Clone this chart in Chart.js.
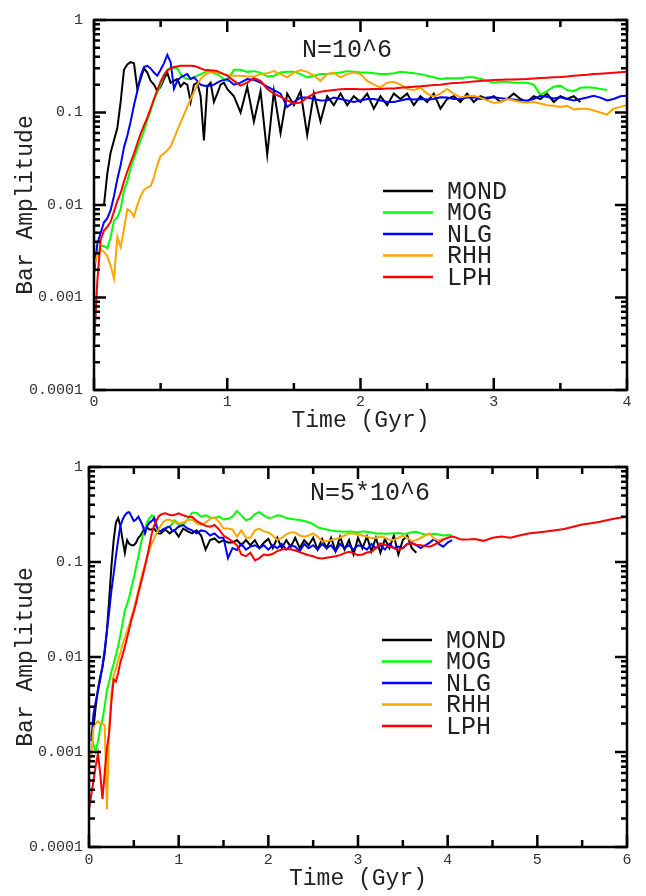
<!DOCTYPE html>
<html>
<head>
<meta charset="utf-8">
<script src="https://cdn.jsdelivr.net/npm/chart.js@4.4.0/dist/chart.umd.min.js"></script>
<style>
  html, body { margin: 0; padding: 0; background: #fff; }
  .panel { position: absolute; left: 0; width: 646px; height: 448px; }
  #top { top: 0; }
  #bottom { top: 448px; }
</style>
</head>
<body>
<div class="panel" id="top"><canvas id="chartTop" width="646" height="448"></canvas></div>
<div class="panel" id="bottom"><canvas id="chartBottom" width="646" height="448"></canvas></div>
<script>
// series names and colours, shared by both panels
const models = ['MOND', 'MOG', 'NLG', 'RHH', 'LPH'];
const modelColors = ['#000000', '#00ff00', '#0000ff', '#ffa500', '#ff0000'];
const yTickValues = [0.0001, 0.001, 0.01, 0.1, 1];

// ---- N = 10^6 (time in Gyr) ----
const timeTop = [
  0, 0.025, 0.05, 0.075, 0.1, 0.125, 0.15, 0.175,
  0.2, 0.225, 0.25, 0.275, 0.3, 0.325, 0.35, 0.375,
  0.4, 0.425, 0.45, 0.475, 0.5, 0.525, 0.55, 0.575,
  0.6, 0.625, 0.65, 0.675, 0.7, 0.725, 0.75, 0.775,
  0.8, 0.825, 0.85, 0.875, 0.9, 0.925, 0.95, 0.975,
  1.0,
  1.05, 1.1, 1.15, 1.2, 1.25, 1.3, 1.35, 1.4, 1.45, 1.5,
  1.55, 1.6, 1.65, 1.7, 1.75, 1.8, 1.85, 1.9, 1.95, 2.0,
  2.05, 2.1, 2.15, 2.2, 2.25, 2.3, 2.35, 2.4, 2.45, 2.5,
  2.55, 2.6, 2.65, 2.7, 2.75, 2.8, 2.85, 2.9, 2.95, 3.0,
  3.05, 3.1, 3.15, 3.2, 3.25, 3.3, 3.35, 3.4, 3.45, 3.5,
  3.55, 3.6, 3.65, 3.7, 3.75, 3.8, 3.85, 3.9, 3.95, 4.0
];
const mondTop = [
  null, null, null, 0.010, 0.022, 0.037, 0.05, 0.068,
  0.13, 0.29, 0.33, 0.35, 0.34, 0.18, 0.23, 0.30,
  0.27, 0.22, 0.20, 0.17, 0.19, 0.23, 0.27, 0.21,
  0.22, 0.23, 0.19, 0.21, 0.2, 0.13, 0.2, 0.21,
  0.15, 0.05, 0.19, 0.21, 0.13, 0.16, 0.2, 0.21,
  0.18,
  0.15, 0.10, 0.19, 0.08, 0.17, 0.035, 0.17, 0.06, 0.16, 0.12,
  0.17, 0.057, 0.16, 0.08, 0.15, 0.12, 0.16, 0.12, 0.15, 0.13,
  0.16, 0.11, 0.15, 0.12, 0.16, 0.14, 0.16, 0.12, 0.15, 0.13,
  0.16, 0.11, 0.14, 0.15, 0.13, 0.16, 0.13, 0.15, 0.14, 0.15,
  0.13, 0.14, 0.16, 0.14, 0.13, 0.15, 0.14, 0.16, 0.13, 0.15,
  0.14, 0.15, 0.13
];
const mogTop = [
  null, 0.0028, 0.0036, 0.0036, 0.0034, 0.0045, 0.0068, 0.0074,
  0.009, 0.0145, 0.018, 0.025, 0.032, 0.04, 0.05, 0.064,
  0.082, 0.105, 0.135, 0.165, 0.2, 0.25, 0.29, 0.305,
  0.305, 0.30, 0.26, 0.24, 0.23, 0.23, 0.24, 0.25,
  0.26, 0.27, 0.28, 0.275, 0.265, 0.26, 0.245, 0.23,
  0.22,
  0.29, 0.29, 0.275, 0.28, 0.27, 0.245, 0.25, 0.27, 0.275, 0.275,
  0.26, 0.24, 0.25, 0.26, 0.26, 0.265, 0.27, 0.28, 0.275, 0.27,
  0.27, 0.265, 0.26, 0.26, 0.265, 0.275, 0.27, 0.265, 0.26, 0.25,
  0.24, 0.23, 0.235, 0.235, 0.235, 0.24, 0.24, 0.23, 0.22, 0.21,
  0.215, 0.215, 0.21, 0.21, 0.21, 0.2, 0.155, 0.17, 0.19, 0.195,
  0.175, 0.17, 0.185, 0.187, 0.185, 0.18, 0.175
];
const nlgTop = [
  0.0018, 0.0038, 0.005, 0.0065, 0.0072, 0.0088, 0.0125, 0.019,
  0.027, 0.042, 0.056, 0.08, 0.12, 0.17, 0.25, 0.31,
  0.32, 0.30, 0.27, 0.25, 0.29, 0.34, 0.42, 0.35,
  0.18, 0.22, 0.24, 0.25, 0.26, 0.23, 0.24, 0.22,
  0.2, 0.195, 0.195, 0.195, 0.2, 0.21, 0.22, 0.225,
  0.23,
  0.2, 0.21, 0.23, 0.225, 0.21, 0.19, 0.175, 0.16, 0.115, 0.13,
  0.145, 0.145, 0.14, 0.135, 0.135, 0.145, 0.14, 0.135, 0.13, 0.135,
  0.14, 0.14, 0.135, 0.13, 0.13, 0.135, 0.14, 0.138, 0.14, 0.138,
  0.14, 0.146, 0.145, 0.14, 0.14, 0.145, 0.146, 0.14, 0.145, 0.146,
  0.143, 0.14, 0.138, 0.135, 0.135, 0.14, 0.152, 0.148, 0.142, 0.146,
  0.14, 0.135, 0.14, 0.145, 0.152, 0.145, 0.135, 0.14, 0.15, 0.152
];
const rhhTop = [
  0.0022, 0.0029, 0.0033, 0.0031, 0.0028, 0.0022, 0.0016, 0.0045,
  0.0035, 0.0055, 0.009, 0.0085, 0.0075, 0.01, 0.0125, 0.0145,
  0.0155, 0.016, 0.02, 0.027, 0.034, 0.036, 0.039, 0.043,
  0.052, 0.064, 0.078, 0.095, 0.115, 0.14, 0.165, 0.2,
  0.23, 0.25, 0.265, 0.275, 0.272, 0.268, 0.265, 0.26,
  0.255,
  0.25, 0.25, 0.245, 0.245, 0.26, 0.265, 0.28, 0.26, 0.24, 0.27,
  0.288, 0.275, 0.25, 0.22, 0.26, 0.27, 0.24, 0.26, 0.27, 0.26,
  0.22, 0.2, 0.187, 0.21, 0.215, 0.2, 0.18, 0.175, 0.185, 0.16,
  0.148, 0.16, 0.18, 0.16, 0.146, 0.15, 0.152, 0.145, 0.135, 0.127,
  0.13, 0.14, 0.135, 0.13, 0.128, 0.13, 0.125, 0.12, 0.118, 0.115,
  0.118, 0.108, 0.11, 0.11, 0.105, 0.1, 0.095, 0.11, 0.115, 0.12
];
const lphTop = [
  0.0003, 0.0015, 0.0042, 0.0053, 0.0058, 0.0066, 0.0085, 0.011,
  0.0135, 0.018, 0.023, 0.029, 0.036, 0.046, 0.059, 0.072,
  0.088, 0.11, 0.14, 0.175, 0.215, 0.255, 0.285, 0.3,
  0.31, 0.315, 0.32, 0.32, 0.32, 0.32, 0.318, 0.31,
  0.3, 0.29, 0.288, 0.286, 0.285, 0.28, 0.27, 0.26,
  0.25,
  0.22, 0.195, 0.21, 0.235, 0.22, 0.18, 0.16, 0.148, 0.135, 0.125,
  0.128, 0.145, 0.16, 0.168, 0.172, 0.175, 0.178, 0.18, 0.18, 0.178,
  0.178, 0.18, 0.18, 0.182, 0.182, 0.185, 0.188, 0.19, 0.192, 0.195,
  0.198, 0.2, 0.205, 0.208, 0.21, 0.213, 0.216, 0.219, 0.222, 0.224,
  0.226, 0.227, 0.228, 0.229, 0.23, 0.233, 0.236, 0.238, 0.24, 0.242,
  0.245, 0.249, 0.253, 0.256, 0.26, 0.263, 0.266, 0.269, 0.272, 0.275
];

// ---- N = 5*10^6 ----
const timeBottom = [
  0, 0.025, 0.05, 0.075, 0.1, 0.125, 0.15, 0.175,
  0.2, 0.225, 0.25, 0.275, 0.3, 0.325, 0.35, 0.375,
  0.4, 0.425, 0.45, 0.475, 0.5, 0.525, 0.55, 0.575,
  0.6, 0.625, 0.65, 0.675, 0.7, 0.725, 0.75, 0.775,
  0.8, 0.825, 0.85, 0.875, 0.9, 0.925, 0.95, 0.975,
  1.0,
  1.05, 1.1, 1.15, 1.2, 1.25, 1.3, 1.35, 1.4, 1.45, 1.5,
  1.55, 1.6, 1.65, 1.7, 1.75, 1.8, 1.85, 1.9, 1.95, 2.0,
  2.05, 2.1, 2.15, 2.2, 2.25, 2.3, 2.35, 2.4, 2.45, 2.5,
  2.55, 2.6, 2.65, 2.7, 2.75, 2.8, 2.85, 2.9, 2.95, 3.0,
  3.05, 3.1, 3.15, 3.2, 3.25, 3.3, 3.35, 3.4, 3.45, 3.5,
  3.55, 3.6, 3.65, 3.7, 3.75, 3.8, 3.85, 3.9, 3.95, 4.0,
  4.05, 4.1, 4.15, 4.2,
  4.3, 4.4, 4.5, 4.6, 4.7, 4.8, 4.9, 5.0,
  5.1, 5.2, 5.3, 5.4, 5.5, 5.6, 5.7, 5.8, 5.9, 6.0
];
const mondBottom = [
  null, null, 0.0018, 0.003, 0.0046, 0.0062, 0.0078, 0.011,
  0.019, 0.04, 0.09, 0.17, 0.26, 0.29, 0.24, 0.17,
  0.125, 0.17, 0.155, 0.15, 0.15, 0.16, 0.18, 0.19,
  0.21, 0.23, 0.23, 0.22, 0.22, 0.225, 0.21, 0.2,
  0.2, 0.21, 0.22, 0.21, 0.2, 0.21, 0.217, 0.2,
  0.185,
  0.225, 0.21, 0.2, 0.215, 0.19, 0.135, 0.17, 0.177, 0.16, 0.17,
  0.16, 0.16, 0.17, 0.15, 0.17, 0.15, 0.17, 0.14, 0.16, 0.175,
  0.14, 0.18, 0.14, 0.17, 0.145, 0.18, 0.14, 0.17, 0.15, 0.18,
  0.135, 0.175, 0.14, 0.18, 0.13, 0.185, 0.135, 0.17, 0.12, 0.18,
  0.14, 0.185, 0.13, 0.18, 0.125, 0.175, 0.14, 0.19, 0.12, 0.17,
  0.19, 0.14, 0.125
];
const mogBottom = [
  null, 0.0016, 0.0012, 0.001, 0.0013, 0.0018, 0.0022, 0.003,
  0.0045, 0.0055, 0.007, 0.0085, 0.0105, 0.013, 0.017, 0.023,
  0.031, 0.036, 0.043, 0.055, 0.068, 0.088, 0.113, 0.15,
  0.19, 0.225, 0.265, 0.29, 0.31, 0.3, 0.26, 0.21,
  0.21, 0.22, 0.228, 0.232, 0.235, 0.25, 0.275, 0.265,
  0.245,
  0.245, 0.28, 0.33, 0.33, 0.3, 0.31, 0.295, 0.29, 0.3, 0.28,
  0.285, 0.3, 0.345, 0.31, 0.275, 0.285, 0.32, 0.335, 0.31, 0.29,
  0.295, 0.31, 0.305, 0.29, 0.285, 0.28, 0.277, 0.27, 0.262, 0.25,
  0.232, 0.225, 0.22, 0.215, 0.212, 0.21, 0.208, 0.21, 0.208, 0.205,
  0.21, 0.208, 0.205, 0.2, 0.2, 0.198, 0.2, 0.2, 0.202, 0.198,
  0.2, 0.206, 0.208, 0.2, 0.195, 0.196, 0.198, 0.195, 0.19, 0.192,
  0.19
];
const nlgBottom = [
  null, 0.0013, 0.0025, 0.0034, 0.0044, 0.0058, 0.008, 0.012,
  0.019, 0.03, 0.05, 0.075, 0.115, 0.17, 0.24, 0.28,
  0.31, 0.33, 0.335, 0.3, 0.27, 0.28, 0.3, 0.27,
  0.24, 0.2, 0.24, 0.26, 0.27, 0.29, 0.24, 0.215,
  0.21, 0.22, 0.225, 0.232, 0.235, 0.215, 0.21, 0.225,
  0.235,
  0.245, 0.225, 0.215, 0.2, 0.215, 0.21, 0.19, 0.2, 0.18, 0.18,
  0.11, 0.14, 0.134, 0.155, 0.135, 0.145, 0.15, 0.14, 0.15, 0.135,
  0.15, 0.14, 0.155, 0.135, 0.15, 0.145, 0.13, 0.155, 0.14, 0.15,
  0.135, 0.155, 0.14, 0.15, 0.13, 0.155, 0.14, 0.15, 0.135, 0.15,
  0.145, 0.135, 0.155, 0.14, 0.15, 0.135, 0.155, 0.14, 0.145, 0.14,
  0.155, 0.16, 0.15, 0.14, 0.15, 0.16, 0.175, 0.155, 0.145, 0.16,
  0.17
];
const rhhBottom = [
  0.0007, 0.0009, 0.0018, 0.002, 0.0021, 0.002, 0.002, 0.0019,
  0.00025, 0.0018, 0.0042, 0.0063, 0.0075, 0.0092, 0.011, 0.0135,
  0.016, 0.019, 0.022, 0.027, 0.032, 0.04, 0.05, 0.063,
  0.078, 0.095, 0.115, 0.135, 0.155, 0.175, 0.197, 0.218,
  0.24, 0.262, 0.272, 0.28, 0.278, 0.27, 0.263, 0.258,
  0.255,
  0.26, 0.275, 0.28, 0.255, 0.245, 0.26, 0.285, 0.295, 0.265, 0.225,
  0.225, 0.22, 0.185, 0.215, 0.18, 0.18, 0.215, 0.225, 0.21, 0.205,
  0.19, 0.17, 0.18, 0.195, 0.205, 0.205, 0.19, 0.185, 0.19, 0.2,
  0.185, 0.165, 0.165, 0.17, 0.175, 0.18, 0.19, 0.2, 0.2, 0.195,
  0.19, 0.185, 0.178, 0.18, 0.185, 0.18, 0.172, 0.17, 0.18, 0.19,
  0.18, 0.165, 0.17, 0.18, 0.19, 0.2, 0.175, 0.17, 0.175
];
const lphBottom = [
  0.00025, 0.00035, 0.0005, 0.00072, 0.00095, 0.0006, 0.00032, 0.0006,
  0.0011, 0.0016, 0.0034, 0.0058, 0.0055, 0.0068, 0.0088, 0.0105,
  0.0128, 0.016, 0.02, 0.025, 0.03, 0.037, 0.047, 0.058,
  0.072, 0.09, 0.115, 0.15, 0.2, 0.24, 0.27, 0.3,
  0.315, 0.322, 0.325, 0.32, 0.312, 0.31, 0.312, 0.318,
  0.325,
  0.31, 0.3, 0.298, 0.27, 0.255, 0.24, 0.235, 0.245, 0.22, 0.19,
  0.177, 0.165, 0.15, 0.12, 0.115, 0.125, 0.104, 0.11, 0.12, 0.118,
  0.122, 0.13, 0.135, 0.137, 0.136, 0.132, 0.127, 0.122, 0.118, 0.115,
  0.11, 0.109, 0.111, 0.113, 0.115, 0.118, 0.124, 0.128, 0.124, 0.118,
  0.12, 0.126, 0.128, 0.14, 0.157, 0.152, 0.145, 0.14, 0.134, 0.14,
  0.155, 0.157, 0.152, 0.15, 0.147, 0.145, 0.152, 0.16, 0.172, 0.18,
  0.185, 0.18, 0.172, 0.172,
  0.175, 0.167, 0.18, 0.186, 0.18, 0.19, 0.2, 0.205,
  0.21, 0.216, 0.223, 0.235, 0.248, 0.256, 0.265, 0.278, 0.29, 0.3
];

Chart.defaults.font.family = '"Liberation Mono", "DejaVu Sans Mono", monospace';
Chart.defaults.color = '#333';

// box round the plot with inward ticks on all four sides
const frameTicks = {
  id: 'frameTicks',
  afterDatasetsDraw(chart) {
    const { ctx, chartArea: a, scales: { x, y } } = chart;
    ctx.save();
    ctx.strokeStyle = '#000';
    ctx.lineWidth = 2.5;
    ctx.beginPath();
    const xMajor = x.ticks.map(t => t.value);
    const xTick = (v, len) => {
      const px = x.getPixelForValue(v);
      ctx.moveTo(px, a.bottom); ctx.lineTo(px, a.bottom - len);
      ctx.moveTo(px, a.top); ctx.lineTo(px, a.top + len);
    };
    const yTick = (v, len) => {
      const py = y.getPixelForValue(v);
      ctx.moveTo(a.left, py); ctx.lineTo(a.left + len, py);
      ctx.moveTo(a.right, py); ctx.lineTo(a.right - len, py);
    };
    xMajor.forEach((v, i) => {
      xTick(v, 12);
      if (i < xMajor.length - 1) xTick((v + xMajor[i + 1]) / 2, 7);
    });
    const yMajor = y.ticks.map(t => t.value);
    yMajor.forEach((v, i) => {
      yTick(v, 12);
      if (i < yMajor.length - 1) {
        for (let k = 2; k <= 9; k++) yTick(v * k, 6);
      }
    });
    ctx.stroke();
    ctx.strokeRect(a.left, a.top, a.right - a.left, a.bottom - a.top);
    ctx.restore();
  }
};

// legend and run label inside the plot area
const inLegend = {
  id: 'inLegend',
  afterDraw(chart, args, opts) {
    const { ctx, chartArea: a } = chart;
    ctx.save();
    ctx.font = '25px "Liberation Mono", monospace';
    ctx.textBaseline = 'middle';
    ctx.fillStyle = '#222';
    chart.data.datasets.forEach((ds, i) => {
      const lx = a.left + opts.dx;
      const ly = a.top + opts.dy + i * 21.5;
      ctx.strokeStyle = ds.borderColor;
      ctx.lineWidth = 2.5;
      ctx.beginPath();
      ctx.moveTo(lx, ly);
      ctx.lineTo(lx + 50, ly);
      ctx.stroke();
      ctx.fillText(ds.label, lx + 64, ly + 1);
    });
    ctx.fillText(opts.title, a.left + opts.tx, a.top + opts.ty);
    ctx.restore();
  }
};

function makeChart(id, times, series, cfg) {
  const datasets = series.map((vals, i) => ({
    label: models[i],
    data: vals,
    borderColor: modelColors[i],
    backgroundColor: modelColors[i],
    borderWidth: 2,
    pointRadius: 0,
    tension: 0,
    fill: false,
    order: models.length - i
  }));
  return new Chart(document.getElementById(id), {
    type: 'line',
    data: { labels: times, datasets },
    options: {
      responsive: false,
      animation: false,
      layout: { padding: { left: 0, top: cfg.top, right: 646 - cfg.right, bottom: 0 } },
      plugins: {
        legend: { display: false },
        tooltip: { enabled: false },
        inLegend: cfg.legend
      },
      scales: {
        x: {
          type: 'linear',
          min: 0,
          max: cfg.xMax,
          afterFit: s => { s.height = cfg.xHeight; },
          grid: { display: false, drawTicks: false },
          border: { display: false },
          ticks: { stepSize: 1, padding: cfg.xPad, font: { size: 15 }, maxRotation: 0 },
          title: { display: true, text: 'Time (Gyr)', font: { size: 23 }, color: '#222', padding: { top: 0, bottom: cfg.xTitlePad } }
        },
        y: {
          type: 'logarithmic',
          min: 0.0001,
          max: 1,
          afterBuildTicks: s => { s.ticks = yTickValues.map(v => ({ value: v })); },
          afterFit: s => { s.width = cfg.left; },
          grid: { display: false, drawTicks: false },
          border: { display: false },
          ticks: { padding: cfg.yPad, font: { size: 15 }, autoSkip: false, callback: v => String(v) },
          title: { display: true, text: 'Bar Amplitude', font: { size: 23 }, color: '#222', padding: 12 }
        }
      }
    },
    plugins: [frameTicks, inLegend]
  });
}

makeChart('chartTop', timeTop, [mondTop, mogTop, nlgTop, rhhTop, lphTop], {
  xMax: 4, left: 94, right: 627, top: 13, xHeight: 58,
  xPad: 3, yPad: 11, xTitlePad: 13,
  legend: { dx: 289, dy: 171, tx: 208, ty: 30, title: 'N=10^6' }
});

makeChart('chartBottom', timeBottom, [mondBottom, mogBottom, nlgBottom, rhhBottom, lphBottom], {
  xMax: 6, left: 89, right: 627, top: 19, xHeight: 49,
  xPad: 4, yPad: 6, xTitlePad: 3,
  legend: { dx: 293, dy: 173, tx: 221, ty: 26, title: 'N=5*10^6' }
});
</script>
</body>
</html>
